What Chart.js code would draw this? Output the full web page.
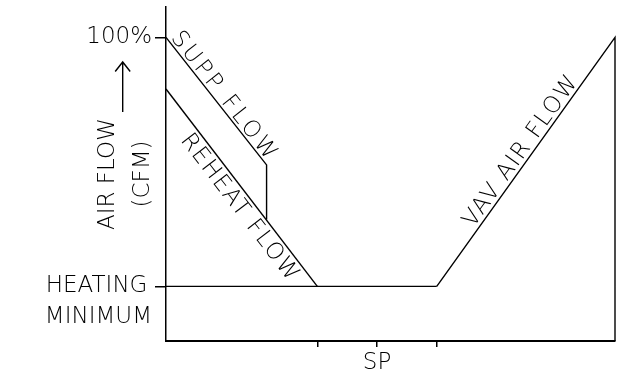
<!DOCTYPE html>
<html lang="en">
<head>
  <meta charset="UTF-8" />
  <title>VAV Air Flow</title>
  <style>
    body {
      margin: 0;
      background: white;
    }
  </style>
</head>
<body>
  <canvas id="grafica" width="621" height="371"></canvas>

  <script src="https://cdn.jsdelivr.net/npm/chart.js"></script>
  <script>
    // curve points (x = space temp, y = % air flow)
    const suppX = [0, 22.4, 22.4];
    const suppY = [100, 58, 40];
    const reheatX = [0, 33.7];
    const reheatY = [83, 18];
    const heatMinX = [0, 60.3];
    const heatMinY = [18, 18];
    const vavX = [60.3, 100, 100];
    const vavY = [18, 100, 0];

    const yTickValues = [18, 100];
    const yTickLabels = [['', 'HEATING\u2009', 'MINIMUM'], '100%'];
    const xTickValues = [33.7, 47, 60.3];
    const xTickLabels = ['', 'SP', ''];

    const lineNames = ['SUPP FLOW', 'REHEAT FLOW', 'VAV AIR FLOW'];

    const FONT = 'DejaVu Sans';

    const toPoints = (xs, ys) => xs.map((v, i) => ({ x: v, y: ys[i] }));

    // where each name sits on its line: dataset, segment, fraction, baseline shift, spacing
    const nameSpots = [
      { ds: 0, seg: 0, at: 0.51, shift: -3, gap: '3px' },
      { ds: 1, seg: 0, at: 0.56, shift: 20, gap: '1.5px' },
      { ds: 3, seg: 0, at: 0.52, shift: -4, gap: '1.5px' }
    ];

    const etiquetas = {
      id: 'etiquetas',
      afterDraw(chart) {
        const ctx = chart.ctx;
        ctx.save();
        ctx.fillStyle = '#000';
        ctx.strokeStyle = '#000';
        ctx.font = `200 23px "${FONT}"`;
        ctx.textAlign = 'center';
        ctx.textBaseline = 'alphabetic';
        nameSpots.forEach((s, i) => {
          const pts = chart.getDatasetMeta(s.ds).data;
          const a = pts[s.seg], b = pts[s.seg + 1];
          const ang = Math.atan2(b.y - a.y, b.x - a.x);
          ctx.save();
          ctx.letterSpacing = s.gap;
          ctx.translate(a.x + (b.x - a.x) * s.at, a.y + (b.y - a.y) * s.at);
          ctx.rotate(ang);
          ctx.fillText(lineNames[i], 0, s.shift);
          ctx.restore();
        });

        // arrow next to the axis title
        ctx.lineWidth = 1.4;
        ctx.beginPath();
        ctx.moveTo(122.7, 112);
        ctx.lineTo(122.7, 62);
        ctx.moveTo(115.2, 71.5);
        ctx.lineTo(122.7, 62);
        ctx.lineTo(130.2, 71.5);
        ctx.stroke();
        ctx.restore();
      }
    };

    const lineDs = (pts) => ({
      data: pts,
      borderColor: '#000',
      borderWidth: 1.4,
      pointRadius: 0,
      fill: false,
      tension: 0,
      clip: false
    });

    new Chart(document.getElementById('grafica'), {
      type: 'line',
      data: {
        datasets: [
          lineDs(toPoints(suppX, suppY)),
          lineDs(toPoints(reheatX, reheatY)),
          lineDs(toPoints(heatMinX, heatMinY)),
          lineDs(toPoints(vavX, vavY))
        ]
      },
      options: {
        responsive: false,
        animation: false,
        devicePixelRatio: 1,
        layout: { padding: { top: 7, right: 6, left: 0, bottom: 0 } },
        plugins: {
          legend: { display: false },
          tooltip: { enabled: false }
        },
        scales: {
          x: {
            type: 'linear',
            min: 0,
            max: 100,
            afterBuildTicks: s => { s.ticks = xTickValues.map(v => ({ value: v })); },
            afterFit: s => { s.height = 30; s.paddingLeft = 0; s.paddingRight = 0; },
            border: { display: true, color: '#000', width: 2 },
            grid: { drawOnChartArea: false, drawTicks: true, tickLength: 6, color: '#000', lineWidth: 1.5 },
            ticks: {
              padding: 2,
              maxRotation: 0,
              autoSkip: false,
              color: '#000',
              font: { family: FONT, size: 23, weight: 200 },
              callback: (v, i) => xTickLabels[i]
            }
          },
          y: {
            type: 'linear',
            min: 0,
            max: 110,
            afterBuildTicks: s => { s.ticks = yTickValues.map(v => ({ value: v })); },
            afterFit: s => { s.width = 166; s.paddingTop = 0; s.paddingBottom = 0; },
            border: { display: true, color: '#000', width: 1.5 },
            grid: { drawOnChartArea: false, drawTicks: true, tickLength: 11, color: '#000', lineWidth: 1.5 },
            ticks: {
              padding: 3,
              autoSkip: false,
              color: '#000',
              font: { family: FONT, size: 23, weight: 200, lineHeight: 1.32 },
              callback: (v, i) => yTickLabels[i]
            },
            title: {
              display: true,
              text: ['AIR FLOW', '(CFM)'],
              color: '#000',
              font: { family: FONT, size: 23, weight: 200, lineHeight: 1.55 },
              padding: { top: 90, bottom: 0 }
            }
          }
        }
      },
      plugins: [etiquetas]
    });
  </script>
</body>
</html>
